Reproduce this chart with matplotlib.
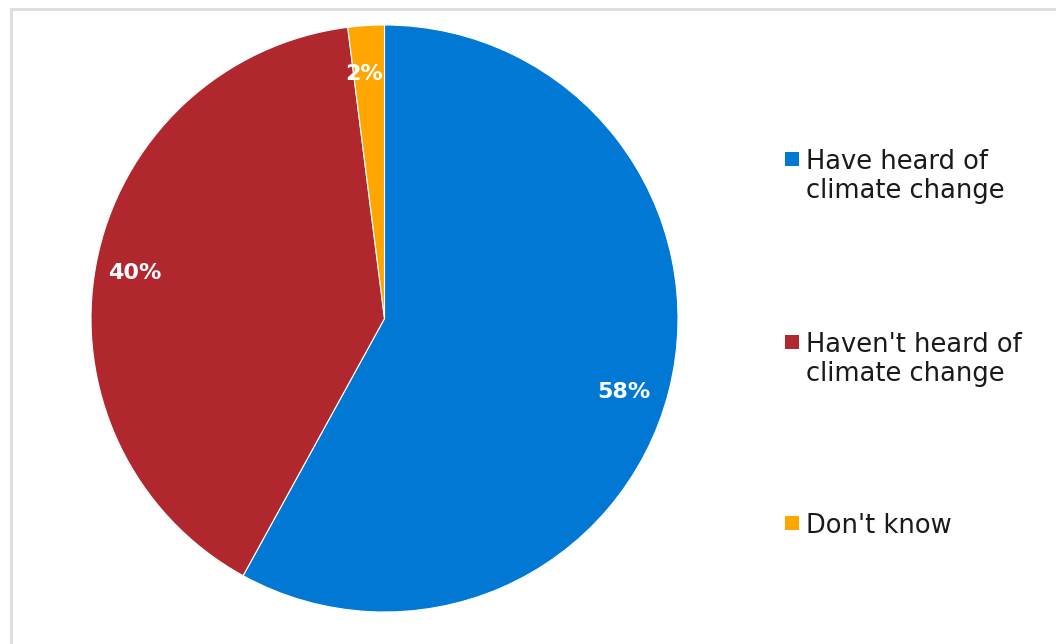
import numpy as np
import matplotlib.pyplot as plt
from matplotlib.patches import Rectangle

# survey answers
labels = ["Have heard of\nclimate change", "Haven't heard of\nclimate change", "Don't know"]
shares = [58, 40, 2]
colors = ["#0078d4", "#b0282e", "#ffa600"]

W, H = 1056, 644
fig = plt.figure(figsize=(W / 100, H / 100), dpi=100)

# light chart-area frame
fig.patches.append(Rectangle((11 / W, -0.05), 1.1, 1 - 9 / H + 0.05,
                             transform=fig.transFigure, fill=False,
                             edgecolor="#dedede", linewidth=2.2))

ax = fig.add_axes([91 / W, 32 / H, 587 / W, 587 / H])
wedges, texts, autotexts = ax.pie(
    shares, colors=colors, startangle=90, counterclock=False,
    autopct="%d%%", pctdistance=0.85,
    wedgeprops=dict(edgecolor="white", linewidth=0.8),
    textprops=dict(color="white", fontsize=16, fontweight="bold"))

# percentage labels sit a little off the wedge middle, like the best-fit placement
label_shift = [-2.8, 0.4, 1.2]   # degrees
label_dist = [0.852, 0.865, 0.835]
for w, t, s, d in zip(wedges, autotexts, label_shift, label_dist):
    ang = np.deg2rad((w.theta1 + w.theta2) / 2 + s)
    t.set_position((d * np.cos(ang), d * np.sin(ang)))

ax.set_xlim(-1.0, 1.0)
ax.set_ylim(-1.0, 1.0)
ax.set_aspect("equal")
ax.axis("off")

# legend on the right: square swatch beside the first line of each label
legend_top = [149, 332, 513]
for lab, col, top in zip(labels, colors, legend_top):
    fig.text(806 / W, 1 - top / H, lab, fontsize=18.5, va="top", ha="left",
             linespacing=1.13, color="#1a1a1a")
    fig.patches.append(Rectangle((785 / W, 1 - (top + 17) / H), 14 / W, 14 / H,
                                 transform=fig.transFigure, facecolor=col,
                                 edgecolor="none"))

fig.savefig("out.png", dpi=100)
